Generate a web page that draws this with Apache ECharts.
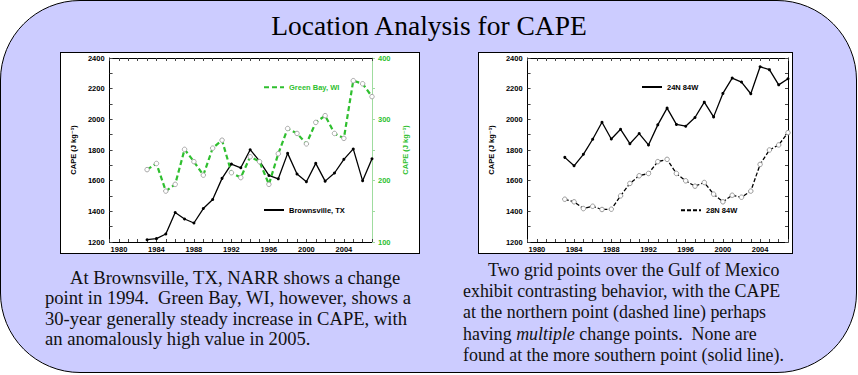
<!DOCTYPE html>
<html>
<head>
<meta charset="utf-8">
<title>Location Analysis for CAPE</title>
<script src="https://cdn.jsdelivr.net/npm/echarts@6/dist/echarts.min.js"></script>
<style>
  html, body { margin: 0; padding: 0; background: #fff; }
  body { width: 858px; height: 375px; position: relative; overflow: hidden; }
  .slide {
    position: absolute; left: 0; top: 0; width: 857px; height: 373px;
    box-sizing: border-box; background: #ccccff;
    border: 1px solid #000; border-radius: 80px;
  }
  .title {
    position: absolute; left: 0; top: 9px; width: 858px; text-align: center;
    font-family: "Liberation Serif", serif; font-size: 27.5px; line-height: 34px; color: #000;
  }
  .box {
    position: absolute; top: 52px; height: 202px; background: #fff;
    border: 1px solid #000; box-sizing: border-box;
  }
  .chart { position: absolute; left: 0; top: 0; right: 0; bottom: 0; }
  .para {
    position: absolute; font-family: "Liberation Serif", serif;
    text-indent: 25px; white-space: nowrap; color: #111;
  }
</style>
</head>
<body>
<div class="slide"></div>
<div class="title">Location Analysis for CAPE</div>

<div class="box" style="left:60px;width:360px;"><div class="chart" id="chartLeft"></div></div>
<div class="box" style="left:478px;width:315px;"><div class="chart" id="chartRight"></div></div>

<div class="para" style="left:45px;top:268px;font-size:18.6px;line-height:20.4px;">
  At Brownsville, TX, NARR shows a change<br>
  point in 1994.&nbsp; Green Bay, WI, however, shows a<br>
  30-year generally steady increase in CAPE, with<br>
  an anomalously high value in 2005.
</div>
<div class="para" style="left:463px;top:260px;font-size:17.9px;line-height:21.2px;">
  Two grid points over the Gulf of Mexico<br>
  exhibit contrasting behavior, with the CAPE<br>
  at the northern point (dashed line) perhaps<br>
  having <i>multiple</i> change points.&nbsp; None are<br>
  found at the more southern point (solid line).
</div>

<script>
// annual CAPE values, 1983-2007
var years = [1983, 1984, 1985, 1986, 1987, 1988, 1989, 1990, 1991, 1992, 1993, 1994, 1995,
             1996, 1997, 1998, 1999, 2000, 2001, 2002, 2003, 2004, 2005, 2006, 2007];
// left panel (Brownsville on left axis, Green Bay on right axis)
var brownsville = [1215, 1222, 1252, 1392, 1350, 1324, 1418, 1477, 1615, 1708, 1684, 1802, 1728,
                   1634, 1612, 1778, 1643, 1593, 1713, 1597, 1650, 1739, 1807, 1599, 1743];
var greenBay = [218, 228, 183, 194, 251, 231, 209, 253, 266, 213, 205, 239, 231,
                194, 244, 285, 277, 260, 295, 306, 277, 269, 363, 358, 337];
// right panel, Gulf of Mexico grid points
var grid24N84W = [1752, 1697, 1772, 1870, 1981, 1872, 1935, 1841, 1907, 1833, 1964, 2073, 1967,
                  1955, 2012, 2112, 2016, 2169, 2269, 2243, 2167, 2343, 2324, 2225, 2265];
var grid28N84W = [1479, 1462, 1418, 1433, 1412, 1414, 1501, 1582, 1632, 1647, 1724, 1739, 1647,
                  1599, 1564, 1588, 1512, 1462, 1505, 1492, 1532, 1706, 1800, 1833, 1913];

var yearTicks = [1980, 1984, 1988, 1992, 1996, 2000, 2004];
var capeTicks = [1200, 1400, 1600, 1800, 2000, 2200, 2400];
var greenTicks = [100, 200, 300, 400];

var FONT = '"Liberation Sans", "DejaVu Sans", Arial, sans-serif';
var GREEN = "#2fbf2f";
var AXIS_NAME = "CAPE (J kg\u207B\u00B9)";

function pairs(vals) {
  return years.map(function(y, i) { return [y, vals[i]]; });
}

function labelStyle(color, margin) {
  return { color: color, fontSize: 7.5, fontWeight: "bold", fontFamily: FONT, margin: margin };
}

function xAxes() {
  var base = {
    type: "value", min: 1979, max: 2007, interval: 1,
    axisLine: { lineStyle: { color: "#000", width: 1 } },
    axisTick: { inside: true, length: 3, lineStyle: { color: "#444" } },
    splitLine: { show: false }
  };
  var bottom = Object.assign({}, base, {
    position: "bottom",
    axisLabel: Object.assign(labelStyle("#000", 3), {
      formatter: function(v) { return yearTicks.indexOf(v) > -1 ? String(v) : ""; }
    })
  });
  var top = Object.assign({}, base, { position: "top", axisLabel: { show: false } });
  return [bottom, top];
}

function capeAxis(nameGap) {
  return {
    type: "value", min: 1200, max: 2400, interval: 100, position: "left",
    name: AXIS_NAME, nameLocation: "middle", nameGap: nameGap, nameRotate: 90,
    nameTextStyle: { color: "#000", fontSize: 7.5, fontWeight: "bold", fontFamily: FONT },
    axisLine: { show: true, lineStyle: { color: "#000", width: 1 } },
    axisTick: { inside: true, length: 3, lineStyle: { color: "#444" } },
    axisLabel: Object.assign(labelStyle("#000", 5), {
      formatter: function(v) { return capeTicks.indexOf(v) > -1 ? String(v) : ""; }
    }),
    splitLine: { show: false }
  };
}

function legendAt(name, left, top, color) {
  return {
    data: [name], left: left, top: top, orient: "horizontal",
    itemWidth: 20, itemHeight: 8, padding: 0,
    itemStyle: { opacity: 0 },
    textStyle: { color: color, fontSize: 7.5, fontWeight: "bold", fontFamily: FONT }
  };
}

var leftChart = echarts.init(document.getElementById("chartLeft"), null, { renderer: "svg" });
var leftOption = {
  animation: false,
  backgroundColor: "#fff",
  grid: { left: 34, right: 47, top: 5, bottom: 11, containLabel: false },
  xAxis: xAxes(),
  yAxis: [
    capeAxis(25),
    {
      type: "value", min: 100, max: 400, interval: 50, position: "right",
      name: AXIS_NAME, nameLocation: "middle", nameGap: 14, nameRotate: 90,
      nameTextStyle: { color: GREEN, fontSize: 7.5, fontWeight: "bold", fontFamily: FONT },
      axisLine: { show: true, lineStyle: { color: "#9fdc9f", width: 1 } },
      axisTick: { inside: false, length: 3, lineStyle: { color: "#9fdc9f" } },
      axisLabel: Object.assign(labelStyle(GREEN, 6), {
        formatter: function(v) { return greenTicks.indexOf(v) > -1 ? String(v) : ""; }
      }),
      splitLine: { show: false }
    }
  ],
  legend: [
    legendAt("Green Bay, WI", 202, 30, GREEN),
    legendAt("Brownsville, TX", 202, 153, "#000")
  ],
  series: [
    {
      name: "Brownsville, TX", type: "line", yAxisIndex: 0,
      data: pairs(brownsville),
      symbol: "circle", symbolSize: 3,
      lineStyle: { color: "#000", width: 1.3 },
      itemStyle: { color: "#000" }
    },
    {
      name: "Green Bay, WI", type: "line", yAxisIndex: 1,
      data: pairs(greenBay),
      symbol: "circle", symbolSize: 4.5,
      lineStyle: { color: GREEN, width: 2.2, type: [5, 3] },
      itemStyle: { color: "#fff", borderColor: "#a8a8a8", borderWidth: 1 },
      z: 3
    }
  ]
};
leftChart.setOption(leftOption);

var rightChart = echarts.init(document.getElementById("chartRight"), null, { renderer: "svg" });
var rightCape = capeAxis(19);
var rightMirror = Object.assign({}, capeAxis(0), {
  position: "right", name: "", axisLabel: { show: false }
});
var rightOption = {
  animation: false,
  backgroundColor: "#fff",
  grid: { left: 34, right: 4, top: 5, bottom: 11, containLabel: false },
  xAxis: xAxes(),
  yAxis: [rightCape, rightMirror],
  legend: [
    legendAt("24N 84W", 162, 30, "#000"),
    legendAt("28N 84W", 201, 153, "#000")
  ],
  series: [
    {
      name: "24N 84W", type: "line", yAxisIndex: 0,
      data: pairs(grid24N84W),
      symbol: "circle", symbolSize: 3,
      lineStyle: { color: "#000", width: 1.3 },
      itemStyle: { color: "#000" }
    },
    {
      name: "28N 84W", type: "line", yAxisIndex: 0,
      data: pairs(grid28N84W),
      symbol: "circle", symbolSize: 4.5,
      lineStyle: { color: "#000", width: 1.3, type: [4, 2] },
      itemStyle: { color: "#fff", borderColor: "#999", borderWidth: 1 }
    }
  ]
};
rightChart.setOption(rightOption);

window.addEventListener("resize", function() {
  leftChart.resize();
  rightChart.resize();
});
</script>
</body>
</html>
